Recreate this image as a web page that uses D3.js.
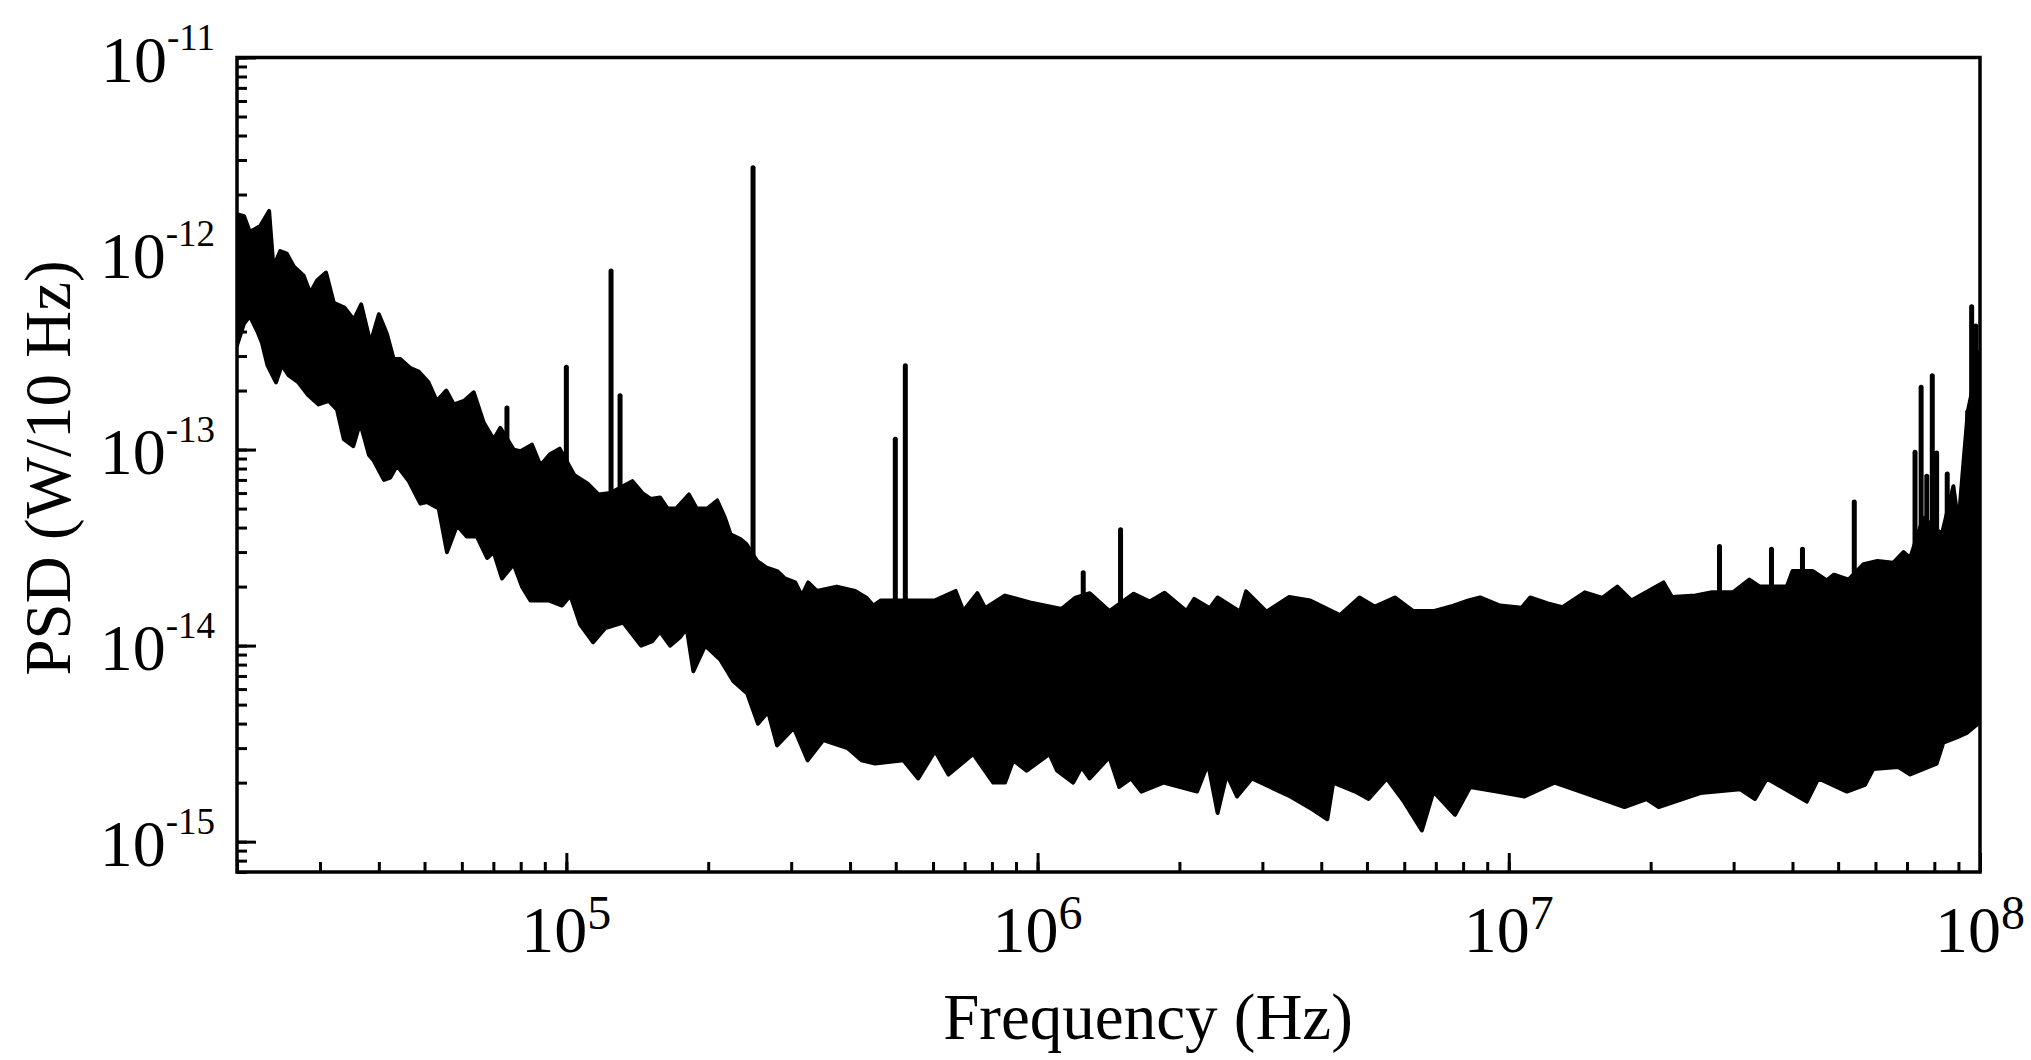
<!DOCTYPE html>
<html lang="en">

<head>
    <meta charset="UTF-8">
    <title>PSD vs Frequency</title>
    <script src="https://cdnjs.cloudflare.com/ajax/libs/d3/7.9.0/d3.min.js"></script>
    <style>
        body { margin: 0; background: white; }
        svg { display: block; font-family: "Liberation Serif", "Times New Roman", serif; }
    </style>
</head>

<body>
    <svg width="2031" height="1060"></svg>

    <script>
        // Upper edge of the noise band, [frequency (Hz), PSD (W/10 Hz)]
        const upperEdge = [
            [2.00e4, 1.59e-12], [2.07e4, 1.55e-12], [2.13e4, 1.29e-12], [2.24e4, 1.38e-12], [2.34e4, 1.65e-12],
            [2.39e4, 8.5e-13], [2.47e4, 1.03e-12], [2.55e4, 1.0e-12], [2.64e4, 8.6e-13], [2.77e4, 7.7e-13],
            [2.86e4, 6.3e-13], [2.96e4, 7.3e-13], [3.09e4, 8.0e-13], [3.21e4, 5.6e-13], [3.38e4, 5.3e-13],
            [3.54e4, 4.6e-13], [3.67e4, 5.5e-13], [3.84e4, 3.5e-13], [4.00e4, 4.9e-13], [4.16e4, 3.9e-13],
            [4.30e4, 2.9e-13], [4.44e4, 2.9e-13], [4.67e4, 2.6e-13], [4.86e4, 2.5e-13], [5.10e4, 2.2e-13],
            [5.31e4, 1.77e-13], [5.56e4, 2.0e-13], [5.77e4, 1.7e-13], [6.06e4, 1.77e-13], [6.36e4, 1.96e-13],
            [6.68e4, 1.37e-13], [7.01e4, 1.13e-13], [7.24e4, 1.29e-13], [7.73e4, 1.0e-13], [7.99e4, 9.8e-14],
            [8.45e4, 1.06e-13], [8.81e4, 8.3e-14], [9.25e4, 9.5e-14], [9.68e4, 1.01e-13], [1.04e5, 7.4e-14],
            [1.11e5, 6.7e-14], [1.17e5, 5.9e-14], [1.24e5, 6.0e-14], [1.38e5, 6.9e-14], [1.45e5, 6.0e-14],
            [1.51e5, 5.6e-14], [1.58e5, 5.7e-14], [1.64e5, 5.0e-14], [1.71e5, 5.0e-14], [1.82e5, 5.9e-14],
            [1.89e5, 5.0e-14], [1.99e5, 5.0e-14], [2.09e5, 5.5e-14], [2.17e5, 4.5e-14], [2.23e5, 3.7e-14],
            [2.34e5, 3.5e-14], [2.41e5, 3.3e-14], [2.54e5, 2.7e-14], [2.66e5, 2.5e-14], [2.80e5, 2.4e-14],
            [2.91e5, 2.2e-14], [3.06e5, 2.1e-14], [3.16e5, 1.8e-14], [3.26e5, 2.1e-14], [3.40e5, 1.9e-14],
            [3.75e5, 2.0e-14], [4.10e5, 1.9e-14], [4.34e5, 1.75e-14], [4.48e5, 1.6e-14], [4.65e5, 1.7e-14],
            [5.54e5, 1.7e-14], [6.06e5, 1.7e-14], [6.70e5, 1.9e-14], [6.96e5, 1.5e-14], [7.45e5, 1.85e-14],
            [7.74e5, 1.55e-14], [8.53e5, 1.8e-14], [9.64e5, 1.66e-14], [1.125e6, 1.54e-14], [1.20e6, 1.75e-14],
            [1.29e6, 1.85e-14], [1.42e6, 1.5e-14], [1.60e6, 1.84e-14], [1.73e6, 1.68e-14], [1.86e6, 1.86e-14],
            [2.07e6, 1.5e-14], [2.15e6, 1.73e-14], [2.32e6, 1.55e-14], [2.41e6, 1.76e-14], [2.69e6, 1.49e-14],
            [2.77e6, 1.89e-14], [3.06e6, 1.49e-14], [3.42e6, 1.77e-14], [3.79e6, 1.7e-14], [4.38e6, 1.43e-14],
            [4.82e6, 1.76e-14], [5.20e6, 1.58e-14], [5.73e6, 1.76e-14], [6.27e6, 1.5e-14], [6.92e6, 1.5e-14],
            [7.63e6, 1.6e-14], [8.21e6, 1.7e-14], [8.69e6, 1.76e-14], [9.58e6, 1.6e-14], [1.065e7, 1.56e-14],
            [1.11e7, 1.76e-14], [1.21e7, 1.64e-14], [1.30e7, 1.57e-14], [1.45e7, 1.87e-14], [1.58e7, 1.75e-14],
            [1.70e7, 2.0e-14], [1.82e7, 1.7e-14], [2.13e7, 2.1e-14], [2.22e7, 1.77e-14], [2.49e7, 1.8e-14],
            [2.70e7, 1.87e-14], [2.99e7, 1.87e-14], [3.24e7, 2.17e-14], [3.41e7, 2.0e-14], [3.89e7, 2.0e-14],
            [4.00e7, 2.4e-14], [4.42e7, 2.4e-14], [4.73e7, 2.15e-14], [4.90e7, 2.3e-14], [5.26e7, 2.17e-14],
            [5.66e7, 2.6e-14], [6.06e7, 2.7e-14], [6.55e7, 2.65e-14], [6.88e7, 3.0e-14], [7.11e7, 2.8e-14],
            [7.58e7, 4.5e-14], [8.30e7, 3.7e-14], [8.78e7, 6.5e-14], [9.00e7, 4.2e-14], [9.22e7, 8.5e-14],
            [9.42e7, 1.56e-13], [1.0e8, 3.1e-13]
        ];

        // Lower edge of the noise band
        const lowerEdge = [
            [2.00e4, 3.4e-13], [2.07e4, 4.4e-13], [2.13e4, 4.8e-13], [2.21e4, 4.0e-13], [2.26e4, 3.5e-13],
            [2.32e4, 2.7e-13], [2.42e4, 2.2e-13], [2.49e4, 2.7e-13], [2.57e4, 2.4e-13], [2.70e4, 2.2e-13],
            [2.83e4, 1.9e-13], [2.98e4, 1.7e-13], [3.13e4, 1.77e-13], [3.26e4, 1.6e-13], [3.37e4, 1.13e-13],
            [3.53e4, 1.04e-13], [3.65e4, 1.37e-13], [3.81e4, 9.4e-14], [3.90e4, 8.8e-14], [4.10e4, 7.0e-14],
            [4.23e4, 7.2e-14], [4.37e4, 8.3e-14], [4.63e4, 6.9e-14], [4.90e4, 5.3e-14], [5.06e4, 5.4e-14],
            [5.36e4, 5.0e-14], [5.58e4, 3.0e-14], [5.86e4, 4.1e-14], [6.15e4, 3.6e-14], [6.46e4, 3.6e-14],
            [6.79e4, 2.8e-14], [7.01e4, 3.0e-14], [7.30e4, 2.2e-14], [7.73e4, 2.6e-14], [8.05e4, 2.0e-14],
            [8.39e4, 1.7e-14], [8.81e4, 1.7e-14], [9.17e4, 1.7e-14], [9.79e4, 1.6e-14], [1.02e5, 1.8e-14],
            [1.07e5, 1.28e-14], [1.14e5, 1.04e-14], [1.21e5, 1.23e-14], [1.32e5, 1.31e-14], [1.44e5, 1.0e-14],
            [1.52e5, 1.05e-14], [1.58e5, 1.18e-14], [1.66e5, 1.0e-14], [1.74e5, 1.1e-14], [1.80e5, 1.23e-14],
            [1.86e5, 7.4e-15], [1.97e5, 1.0e-14], [2.12e5, 8.5e-15], [2.26e5, 6.6e-15], [2.42e5, 5.7e-15],
            [2.55e5, 4.0e-15], [2.68e5, 4.6e-15], [2.80e5, 3.1e-15], [3.04e5, 3.8e-15], [3.25e5, 2.6e-15],
            [3.51e5, 3.3e-15], [3.95e5, 3.0e-15], [4.23e5, 2.6e-15], [4.52e5, 2.5e-15], [5.19e5, 2.6e-15],
            [5.58e5, 2.1e-15], [6.06e5, 2.9e-15], [6.47e5, 2.2e-15], [7.30e5, 2.8e-15], [8.05e5, 2.0e-15],
            [8.53e5, 2.0e-15], [8.88e5, 2.6e-15], [9.48e5, 2.3e-15], [1.06e6, 2.8e-15], [1.10e6, 2.3e-15],
            [1.19e6, 2.0e-15], [1.24e6, 2.4e-15], [1.29e6, 2.1e-15], [1.42e6, 2.7e-15], [1.49e6, 1.9e-15],
            [1.58e6, 2.1e-15], [1.66e6, 1.8e-15], [1.85e6, 2.0e-15], [2.18e6, 1.8e-15], [2.30e6, 2.5e-15],
            [2.41e6, 1.4e-15], [2.52e6, 2.2e-15], [2.65e6, 1.7e-15], [2.85e6, 2.1e-15], [3.44e6, 1.7e-15],
            [3.85e6, 1.45e-15], [4.12e6, 1.3e-15], [4.24e6, 2.0e-15], [4.72e6, 1.8e-15], [5.04e6, 1.65e-15],
            [5.51e6, 2.1e-15], [5.99e6, 1.6e-15], [6.54e6, 1.14e-15], [6.92e6, 1.8e-15], [7.69e6, 1.37e-15],
            [8.28e6, 1.9e-15], [9.43e6, 1.8e-15], [1.08e7, 1.7e-15], [1.25e7, 2.0e-15], [1.45e7, 1.77e-15],
            [1.76e7, 1.5e-15], [1.96e7, 1.65e-15], [2.08e7, 1.5e-15], [2.55e7, 1.77e-15], [3.10e7, 1.85e-15],
            [3.33e7, 1.65e-15], [3.53e7, 2.1e-15], [4.29e7, 1.6e-15], [4.54e7, 2.1e-15], [5.22e7, 1.8e-15],
            [5.70e7, 1.95e-15], [5.94e7, 2.35e-15], [6.71e7, 2.4e-15], [7.11e7, 2.2e-15], [8.09e7, 2.5e-15],
            [8.36e7, 3.2e-15], [8.93e7, 3.4e-15], [9.40e7, 3.6e-15], [9.90e7, 4.0e-15], [1.0e8, 4.0e-15]
        ];

        // Narrow peaks standing above the band: [frequency, peak PSD]
        const spikes = [
            [7.48e4, 1.63e-13], [1.0e5, 2.63e-13], [1.244e5, 8.15e-13], [1.30e5, 1.88e-13],
            [2.49e5, 2.74e-12], [4.99e5, 1.13e-13], [5.24e5, 2.68e-13], [1.25e6, 2.35e-14],
            [1.50e6, 3.9e-14], [2.80e7, 3.2e-14], [3.61e7, 3.1e-14], [4.20e7, 3.1e-14],
            [5.41e7, 5.4e-14], [7.28e7, 9.7e-14], [7.50e7, 2.08e-13], [7.71e7, 7.3e-14],
            [7.92e7, 2.38e-13], [8.09e7, 9.6e-14], [8.52e7, 7.5e-14], [9.27e7, 8.5e-14],
            [9.42e7, 1.56e-13], [9.60e7, 5.35e-13], [9.80e7, 4.27e-13], [9.93e7, 3.1e-13]
        ];

        const xDomain = [2e4, 1e8];
        const yDomain = [7e-16, 1e-11];
        const xMajor = [1e5, 1e6, 1e7, 1e8];
        const xExponents = ["5", "6", "7", "8"];
        const yMajor = [1e-15, 1e-14, 1e-13, 1e-12, 1e-11];
        const yExponents = ["-15", "-14", "-13", "-12", "-11"];

        let svg = d3.select("svg");

        let plotLeft = 237, plotRight = 1980, plotTop = 57.5, plotBottom = 872;

        let x = d3.scaleLog().domain(xDomain).range([plotLeft, plotRight]);
        let y = d3.scaleLog().domain(yDomain).range([plotBottom, plotTop]);

        svg.append("clipPath").attr("id", "plotClip")
            .append("rect")
            .attr("x", plotLeft).attr("y", plotTop)
            .attr("width", plotRight - plotLeft).attr("height", plotBottom - plotTop);

        let plot = svg.append("g").attr("clip-path", "url(#plotClip)");

        // the band: upper edge left to right, then lower edge back
        let line = d3.line().x(d => x(d[0])).y(d => y(d[1]));
        let outline = upperEdge.concat(lowerEdge.slice().reverse());

        plot.append("path")
            .attr("d", line(outline) + "Z")
            .attr("fill", "black")
            .attr("stroke", "black")
            .attr("stroke-width", 4)
            .attr("stroke-linejoin", "round");

        // spikes go from their peak down to the middle of the band
        let bisect = d3.bisector(d => d[0]).left;
        spikes.forEach(d => {
            let iu = Math.min(bisect(upperEdge, d[0]), upperEdge.length - 1);
            let il = Math.min(bisect(lowerEdge, d[0]), lowerEdge.length - 1);
            let base = Math.sqrt(upperEdge[iu][1] * lowerEdge[il][1]);
            plot.append("line")
                .attr("x1", x(d[0])).attr("x2", x(d[0]))
                .attr("y1", y(d[1]))
                .attr("y2", y(base))
                .attr("stroke", "black")
                .attr("stroke-width", 5)
                .attr("stroke-linecap", "round");
        });

        // ticks (inward), minor then major
        function drawTicks(axis, transform) {
            let g = svg.append("g").attr("transform", transform).call(axis);
            g.select(".domain").remove();
            g.selectAll(".tick line").attr("stroke", "black").attr("stroke-width", 3);
            g.selectAll(".tick text").remove();
        }

        drawTicks(d3.axisBottom(x).tickValues(x.ticks()).tickSize(-10), `translate(0,${plotBottom})`);
        drawTicks(d3.axisBottom(x).tickValues(xMajor).tickSize(-19), `translate(0,${plotBottom})`);
        drawTicks(d3.axisLeft(y).tickValues(y.ticks()).tickSize(-10), `translate(${plotLeft},0)`);
        drawTicks(d3.axisLeft(y).tickValues(yMajor).tickSize(-19), `translate(${plotLeft},0)`);

        // frame
        svg.append("rect")
            .attr("x", plotLeft).attr("y", plotTop)
            .attr("width", plotRight - plotLeft).attr("height", plotBottom - plotTop)
            .attr("fill", "none")
            .attr("stroke", "black")
            .attr("stroke-width", 3.5);

        // tick labels as 10 with a raised exponent
        xMajor.forEach((v, i) => {
            let t = svg.append("text")
                .attr("x", x(v))
                .attr("y", plotBottom + 80)
                .attr("text-anchor", "middle");
            t.append("tspan").attr("font-size", "66px").text("10");
            t.append("tspan").attr("font-size", "48px").attr("dy", -23).text(xExponents[i]);
        });

        yMajor.forEach((v, i) => {
            let t = svg.append("text")
                .attr("x", 215)
                .attr("y", y(v) + 24.5)
                .attr("text-anchor", "end");
            t.append("tspan").attr("font-size", "66px").text("10");
            t.append("tspan").attr("font-size", "37px").attr("dy", -32).text(yExponents[i]);
        });

        // axis titles
        svg.append("text")
            .attr("x", 1148)
            .attr("y", 1039)
            .attr("text-anchor", "middle")
            .attr("font-size", "65px")
            .text("Frequency (Hz)");

        svg.append("text")
            .attr("transform", "translate(70,468) rotate(-90)")
            .attr("text-anchor", "middle")
            .attr("font-size", "65px")
            .text("PSD (W/10 Hz)");
    </script>
</body>

</html>
